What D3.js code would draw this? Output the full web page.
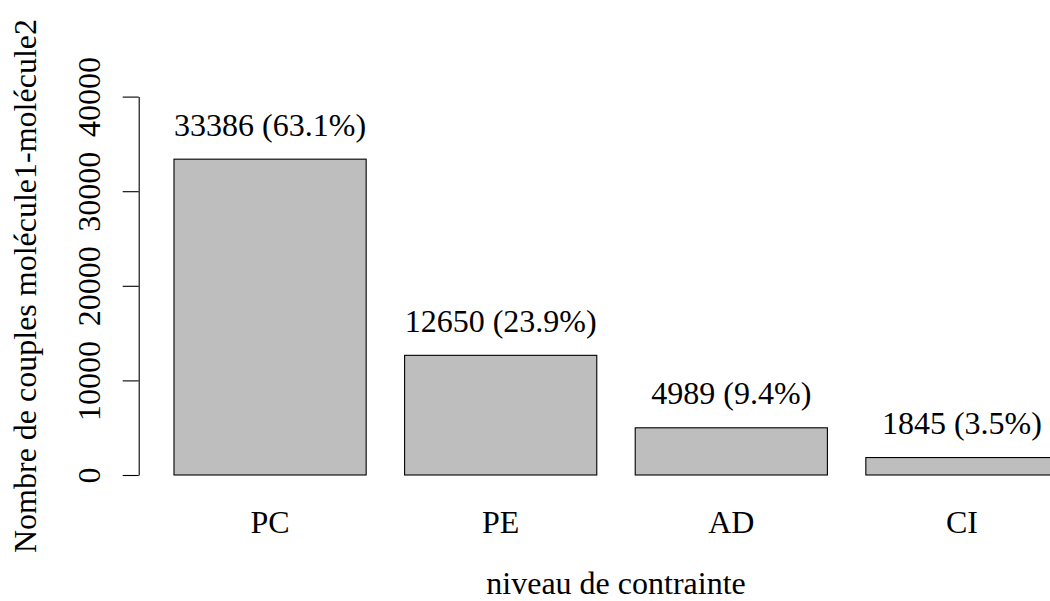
<!DOCTYPE html>
<html>
<head>
<meta charset="utf-8">
<script src="https://cdn.jsdelivr.net/npm/d3@7"></script>
<style>
  html, body { margin: 0; padding: 0; background: #fff; }
  svg { display: block; }
</style>
</head>
<body>
<svg id="chart" width="1050" height="601"></svg>
<script>
const categories = ["PC", "PE", "AD", "CI"];
const counts = [33386, 12650, 4989, 1845];
const percents = ["63.1%", "23.9%", "9.4%", "3.5%"];
const yTicks = [0, 10000, 20000, 30000, 40000];
const xTitle = "niveau de contrainte";
const yTitle = "Nombre de couples molécule1-molécule2";

const FONT = '"Liberation Serif"';
const fontSize = 32;

const svg = d3.select("#chart");

const plotLeft = 138.7, plotRight = 1093.3;
const x = d3.scaleBand()
  .domain(categories)
  .range([plotLeft, plotRight])
  .paddingInner(1 / 6)
  .paddingOuter(0.153);

const y = d3.scaleLinear().domain([0, 40000]).range([475, 96.6]);

function styleText(sel) {
  return sel.style("font-family", FONT).style("font-size", fontSize + "px").attr("fill", "#000");
}

// bars
svg.append("g").selectAll("rect")
  .data(categories)
  .join("rect")
  .attr("x", d => x(d))
  .attr("width", x.bandwidth())
  .attr("y", (d, i) => y(counts[i]))
  .attr("height", (d, i) => y(0) - y(counts[i]))
  .attr("fill", "#bebebe")
  .attr("stroke", "#000")
  .attr("stroke-width", 1.1);

// value labels
svg.append("g").selectAll("text")
  .data(categories)
  .join("text")
  .attr("x", d => x(d) + x.bandwidth() / 2)
  .attr("y", (d, i) => y(counts[i]) - 23.5)
  .attr("text-anchor", "middle")
  .call(styleText)
  .text((d, i) => counts[i] + " (" + percents[i] + ")");

// y axis
const yAxis = svg.append("g")
  .attr("transform", `translate(${plotLeft},0)`)
  .call(d3.axisLeft(y).tickValues(yTicks).tickFormat(d3.format("d")).tickSize(16).tickSizeOuter(0));
yAxis.select(".domain").attr("stroke", "#000").attr("stroke-width", 1.1);
yAxis.selectAll(".tick line").attr("stroke", "#000").attr("stroke-width", 1.1);
yAxis.selectAll(".tick text")
  .attr("transform", "rotate(-90)")
  .attr("x", 0)
  .attr("y", -38.7)
  .attr("dy", 0)
  .attr("text-anchor", "middle")
  .call(styleText);

// x category labels
svg.append("g").selectAll("text")
  .data(categories)
  .join("text")
  .attr("x", d => x(d) + x.bandwidth() / 2)
  .attr("y", 533)
  .attr("text-anchor", "middle")
  .call(styleText)
  .text(d => d);

// axis titles
svg.append("text")
  .attr("x", (plotLeft + plotRight) / 2)
  .attr("y", 594)
  .attr("text-anchor", "middle")
  .call(styleText)
  .text(xTitle);

svg.append("text")
  .attr("transform", `translate(36,286) rotate(-90)`)
  .attr("text-anchor", "middle")
  .call(styleText)
  .text(yTitle);
</script>
</body>
</html>
